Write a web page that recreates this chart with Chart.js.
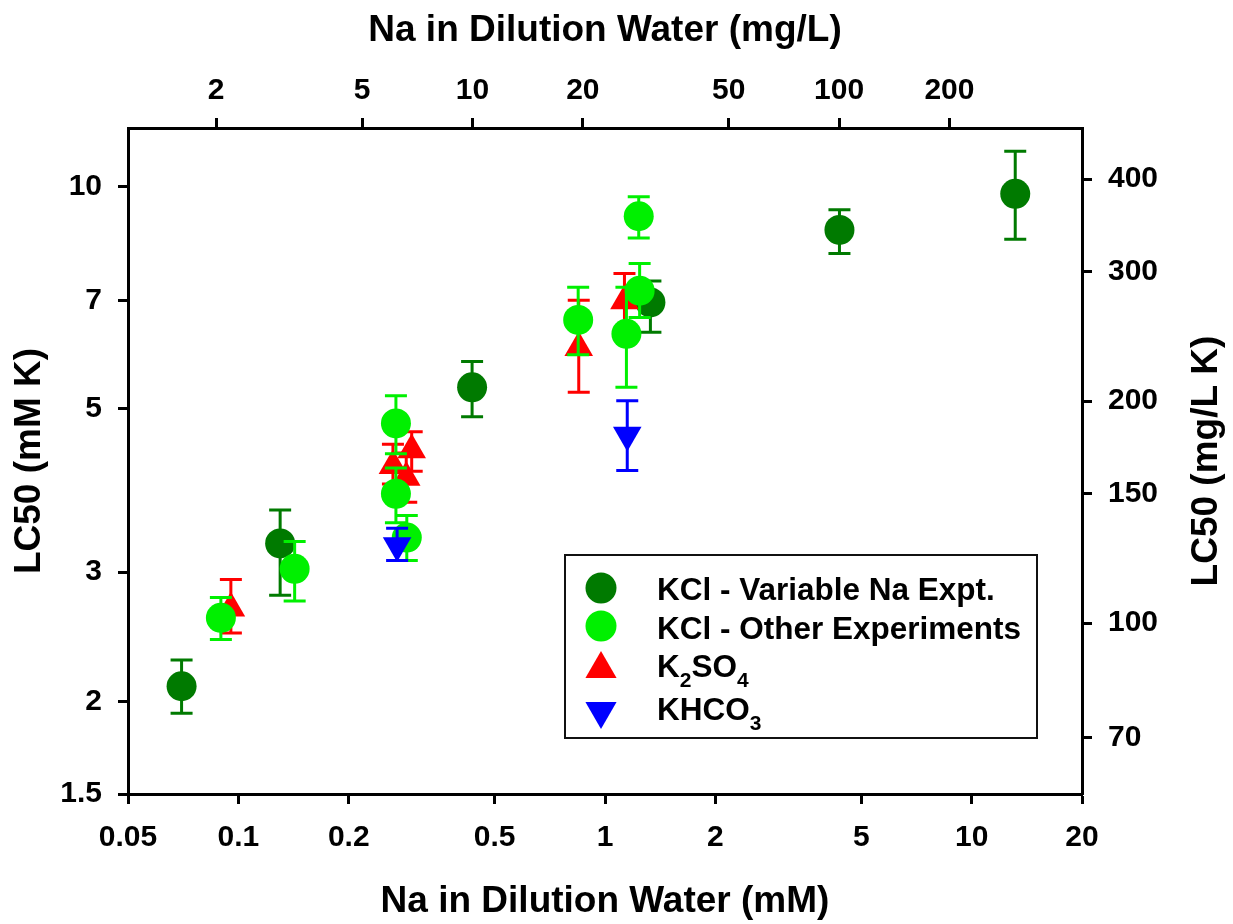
<!DOCTYPE html>
<html>
<head>
<meta charset="utf-8">
<script src="https://cdn.jsdelivr.net/npm/chart.js@4.4.1/dist/chart.umd.min.js"></script>
<style>
  html, body { margin: 0; padding: 0; background: #ffffff; }
  canvas { display: block; }
</style>
</head>
<body>
<canvas id="lc50" width="1233" height="924"></canvas>
<script>
// Unit conversions for the secondary axes (mg per mmol)
const NA_MG_PER_MMOL = 22.99;
const K_MG_PER_MMOL = 39.10;

// Axis ticks
const NA_MM_TICKS = [0.05, 0.1, 0.2, 0.5, 1, 2, 5, 10, 20];
const NA_MGL_TICKS = [2, 5, 10, 20, 50, 100, 200];
const K_MM_TICKS = [1.5, 2, 3, 5, 7, 10];
const K_MGL_TICKS = [70, 100, 150, 200, 300, 400];

// Series labels
const SERIES_NAMES = ['KCl - Variable Na Expt.', 'KCl - Other Experiments', 'K2SO4', 'KHCO3'];

// KCl - Variable Na experiment: Na (mM), LC50 (mM K), lower/upper limits
const kclVarNaX  = [0.070, 0.130, 0.434, 1.33, 4.36, 13.15];
const kclVarNaY  = [2.10, 3.28, 5.34, 6.96, 8.73, 9.77];
const kclVarNaLo = [1.93, 2.79, 4.87, 6.34, 8.11, 8.48];
const kclVarNaHi = [2.28, 3.64, 5.79, 7.44, 9.30, 11.16];

// KCl - other experiments
const kclOtherX  = [0.0896, 0.1424, 0.269, 0.269, 0.288, 0.845, 1.144, 1.243, 1.236];
const kclOtherY  = [2.60, 3.03, 4.77, 3.83, 3.34, 6.59, 6.31, 7.22, 9.11];
const kclOtherLo = [2.43, 2.74, 4.34, 3.50, 3.11, 5.91, 5.34, 6.64, 8.51];
const kclOtherHi = [2.77, 3.30, 5.20, 4.15, 3.58, 7.30, 7.30, 7.86, 9.68];

// K2SO4
const k2so4X  = [0.0954, 0.297, 0.264, 0.287, 0.848, 1.13];
const k2so4Y  = [2.68, 4.39, 4.18, 4.03, 6.04, 6.99];
const k2so4Lo = [2.48, 4.11, 3.95, 3.73, 5.26, 6.40];
const k2so4Hi = [2.93, 4.65, 4.47, 4.35, 7.01, 7.62];

// KHCO3
const khco3X  = [0.271, 1.15];
const khco3Y  = [3.26, 4.60];
const khco3Lo = [3.11, 4.12];
const khco3Hi = [3.44, 5.12];

const DARK_GREEN = '#007a00';
const LIGHT_GREEN = '#00f000';
const RED = '#ff0000';
const BLUE = '#0000ff';

const FONT_FAMILY = '"Liberation Sans", Arial, Helvetica, sans-serif';
Chart.defaults.font.family = FONT_FAMILY;
Chart.defaults.font.weight = 'bold';
Chart.defaults.color = '#000000';

function points(xs, ys) {
  return xs.map((x, i) => ({ x: x, y: ys[i] }));
}

const datasets = [
  {
    label: SERIES_NAMES[0], data: points(kclVarNaX, kclVarNaY),
    errLow: kclVarNaLo, errHigh: kclVarNaHi,
    backgroundColor: DARK_GREEN, borderColor: DARK_GREEN,
    pointStyle: 'circle', pointRadius: 15, pointBorderWidth: 0, order: 3
  },
  {
    label: SERIES_NAMES[1], data: points(kclOtherX, kclOtherY),
    errLow: kclOtherLo, errHigh: kclOtherHi,
    backgroundColor: LIGHT_GREEN, borderColor: LIGHT_GREEN,
    pointStyle: 'circle', pointRadius: 15, pointBorderWidth: 0, order: 1
  },
  {
    label: SERIES_NAMES[2], data: points(k2so4X, k2so4Y),
    errLow: k2so4Lo, errHigh: k2so4Hi,
    backgroundColor: RED, borderColor: RED,
    pointStyle: 'triangle', pointRadius: 16.5, pointBorderWidth: 0, order: 2
  },
  {
    label: SERIES_NAMES[3], data: points(khco3X, khco3Y),
    errLow: khco3Lo, errHigh: khco3Hi,
    backgroundColor: BLUE, borderColor: BLUE,
    pointStyle: 'triangle', rotation: 180, pointRadius: 16.5, pointBorderWidth: 0, order: 0
  }
];

// Vertical error bars with caps, drawn just beneath each series' markers
const errorBars = {
  id: 'errorBars',
  beforeDatasetDraw(chart, args) {
    const ds = chart.data.datasets[args.index];
    const yScale = chart.scales.y;
    const ctx = chart.ctx;
    const cap = 11;
    ctx.save();
    ctx.strokeStyle = ds.borderColor;
    ctx.lineWidth = 3;
    args.meta.data.forEach((pt, i) => {
      const yl = yScale.getPixelForValue(ds.errLow[i]);
      const yh = yScale.getPixelForValue(ds.errHigh[i]);
      ctx.beginPath();
      ctx.moveTo(pt.x, yl); ctx.lineTo(pt.x, yh);
      ctx.moveTo(pt.x - cap, yl); ctx.lineTo(pt.x + cap, yl);
      ctx.moveTo(pt.x - cap, yh); ctx.lineTo(pt.x + cap, yh);
      ctx.stroke();
    });
    ctx.restore();
  }
};

// Boxed legend with chemical subscripts, and the right-hand axis title
const LEGEND_TEXT = [
  [[SERIES_NAMES[0], false]],
  [[SERIES_NAMES[1], false]],
  [['K', false], ['2', true], ['SO', false], ['4', true]],
  [['KHCO', false], ['3', true]]
];
const legendAndRightTitle = {
  id: 'legendAndRightTitle',
  afterDraw(chart) {
    const ctx = chart.ctx;
    const area = chart.chartArea;
    ctx.save();

    // right axis title, reading bottom to top
    ctx.save();
    ctx.translate(1207, (area.top + area.bottom) / 2);
    ctx.rotate(-Math.PI / 2);
    ctx.font = 'bold 37px ' + FONT_FAMILY;
    ctx.fillStyle = '#000';
    ctx.textAlign = 'center';
    ctx.textBaseline = 'middle';
    ctx.fillText('LC50 (mg/L K)', 0, 0);
    ctx.restore();

    // legend frame
    const bx = 565, by = 555, bw = 472, bh = 183;
    ctx.fillStyle = '#ffffff';
    ctx.fillRect(bx, by, bw, bh);
    ctx.strokeStyle = '#111';
    ctx.lineWidth = 2;
    ctx.strokeRect(bx, by, bw, bh);

    const markerX = 601;
    const markerY = [588, 626, 669, 711];
    const baseY = [600, 638.5, 677, 720];
    datasets.forEach((ds, i) => {
      ctx.fillStyle = ds.backgroundColor;
      ctx.strokeStyle = ds.backgroundColor;
      const isTri = ds.pointStyle === 'triangle';
      Chart.helpers.drawPoint(ctx, {
        pointStyle: ds.pointStyle,
        rotation: ds.rotation || 0,
        radius: isTri ? 18 : 15.5,
        borderWidth: 0
      }, markerX, markerY[i]);

      let x = 657;
      ctx.fillStyle = '#000';
      ctx.textAlign = 'left';
      ctx.textBaseline = 'alphabetic';
      LEGEND_TEXT[i].forEach(([txt, sub]) => {
        ctx.font = sub ? 'bold 21px ' + FONT_FAMILY : 'bold 31.5px ' + FONT_FAMILY;
        ctx.fillText(txt, x, baseY[i] + (sub ? 10 : 0));
        x += ctx.measureText(txt).width;
      });
    });
    ctx.restore();
  }
};

function fixedTicks(values) {
  return scale => { scale.ticks = values.map(v => ({ value: v })); };
}

const tickFont = { size: 30, weight: 'bold' };
const titleFont = { size: 37, weight: 'bold', lineHeight: 1.2 };
const axisGrid = {
  display: true, drawOnChartArea: false, drawTicks: true,
  tickLength: 10, tickWidth: 3, tickColor: '#000'
};
const axisBorder = { display: true, color: '#000', width: 3 };

new Chart(document.getElementById('lc50'), {
  type: 'scatter',
  data: { datasets: datasets },
  plugins: [errorBars, legendAndRightTitle],
  options: {
    responsive: false,
    animation: false,
    layout: { padding: 0 },
    plugins: {
      legend: { display: false },
      tooltip: { enabled: false }
    },
    scales: {
      x: {
        type: 'logarithmic', position: 'bottom',
        min: NA_MM_TICKS[0], max: NA_MM_TICKS[NA_MM_TICKS.length - 1],
        afterBuildTicks: fixedTicks(NA_MM_TICKS),
        afterFit: s => { s.height = 130; },
        ticks: { font: tickFont, padding: 16, maxRotation: 0, autoSkip: false, callback: v => String(v) },
        grid: axisGrid, border: axisBorder,
        title: { display: true, text: 'Na in Dilution Water (mM)', font: titleFont, padding: { top: 0, bottom: 0 } }
      },
      xTop: {
        type: 'logarithmic', position: 'top',
        min: NA_MM_TICKS[0] * NA_MG_PER_MMOL, max: NA_MM_TICKS[NA_MM_TICKS.length - 1] * NA_MG_PER_MMOL,
        afterBuildTicks: fixedTicks(NA_MGL_TICKS),
        afterFit: s => { s.height = 128; },
        ticks: { font: tickFont, padding: 9, maxRotation: 0, autoSkip: false, callback: v => String(v) },
        grid: axisGrid, border: axisBorder,
        title: { display: true, text: 'Na in Dilution Water (mg/L)', font: titleFont, padding: { top: 9, bottom: 0 } }
      },
      y: {
        type: 'logarithmic', position: 'left',
        min: K_MM_TICKS[0], max: 12,
        afterBuildTicks: fixedTicks(K_MM_TICKS),
        afterFit: s => { s.width = 128; },
        ticks: { font: tickFont, padding: 16, autoSkip: false, callback: v => String(v) },
        grid: axisGrid, border: axisBorder,
        title: { display: true, text: 'LC50 (mM K)', font: titleFont, padding: { top: 8, bottom: 0 } }
      },
      yRight: {
        type: 'logarithmic', position: 'right',
        min: K_MM_TICKS[0] * K_MG_PER_MMOL, max: 12 * K_MG_PER_MMOL,
        afterBuildTicks: fixedTicks(K_MGL_TICKS),
        afterFit: s => { s.width = 151; },
        ticks: { font: tickFont, padding: 16, autoSkip: false, callback: v => String(v) },
        grid: axisGrid, border: axisBorder,
        title: { display: false }
      }
    }
  }
});
</script>
</body>
</html>
